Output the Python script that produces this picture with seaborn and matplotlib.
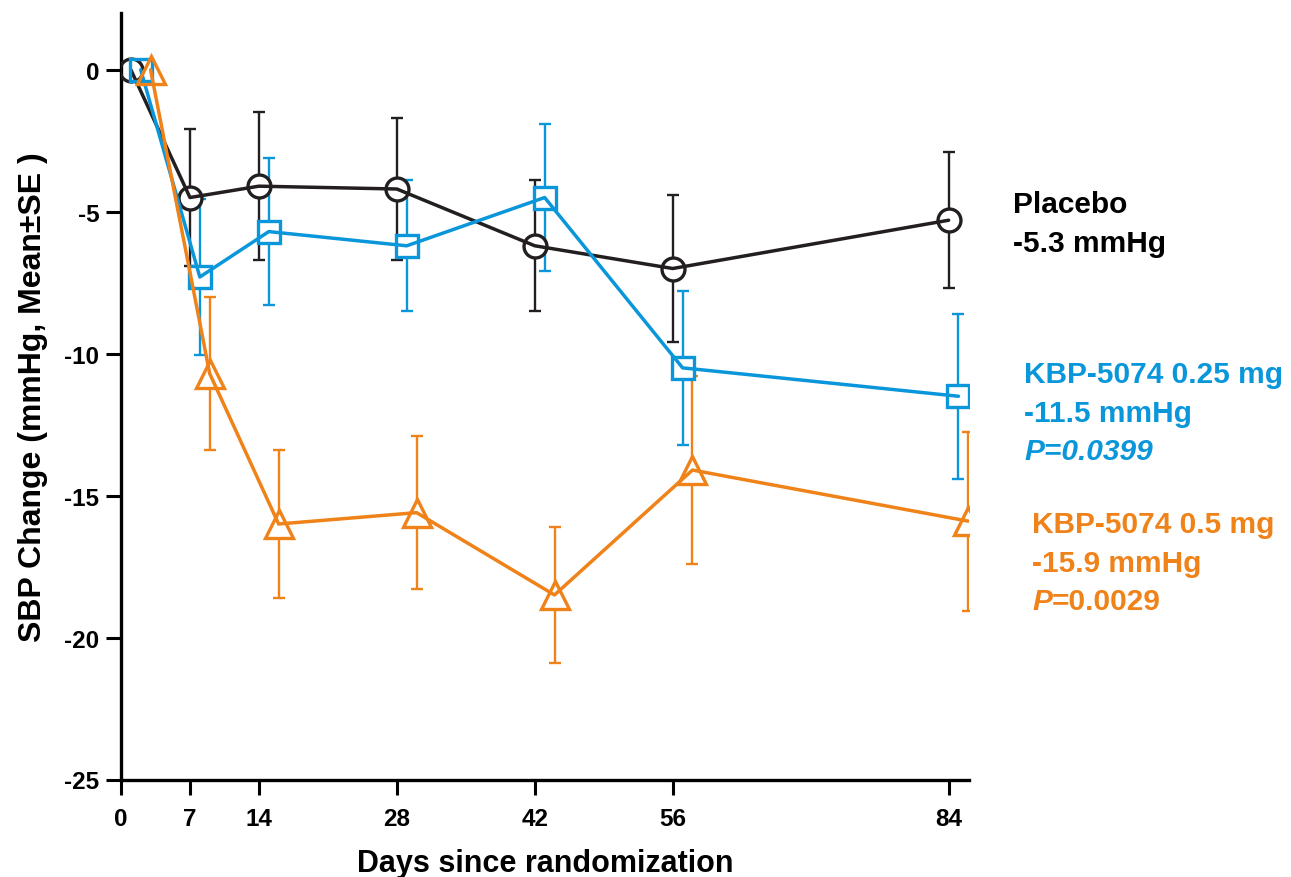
import matplotlib
matplotlib.use("Agg")
import matplotlib.pyplot as plt
import pandas as pd
import seaborn as sns

# ---------------- data ----------------
days = [0, 7, 14, 28, 42, 56, 84]
x_ticks = [0, 7, 14, 28, 42, 56, 84]
y_ticks = [0, -5, -10, -15, -20, -25]

groups = ["Placebo", "KBP-5074 0.25 mg", "KBP-5074 0.5 mg"]

placebo_mean = [0, -4.5, -4.1, -4.2, -6.2, -7.0, -5.3]
placebo_se = [0, 2.4, 2.6, 2.5, 2.3, 2.6, 2.4]
low_mean = [0, -7.3, -5.7, -6.2, -4.5, -10.5, -11.5]
low_se = [0, 2.75, 2.6, 2.3, 2.6, 2.7, 2.9]
high_mean = [0, -10.7, -16.0, -15.6, -18.5, -14.1, -15.9]
high_se = [0, 2.7, 2.6, 2.7, 2.4, 3.3, 3.15]

summary_lines = {
    "Placebo": ["Placebo", "-5.3 mmHg"],
    "KBP-5074 0.25 mg": ["KBP-5074 0.25 mg", "-11.5 mmHg"],
    "KBP-5074 0.5 mg": ["KBP-5074 0.5 mg", "-15.9 mmHg"],
}
p_values = {"KBP-5074 0.25 mg": "0.0399", "KBP-5074 0.5 mg": "0.0029"}

# ---------------- styles ----------------
colors = {"Placebo": "#231F20", "KBP-5074 0.25 mg": "#0A96DA", "KBP-5074 0.5 mg": "#EF8219"}
markers = {"Placebo": "o", "KBP-5074 0.25 mg": "s", "KBP-5074 0.5 mg": "^"}
msizes = {"Placebo": 16.5, "KBP-5074 0.25 mg": 15.5, "KBP-5074 0.5 mg": 19.5}
dodge = {"Placebo": 0, "KBP-5074 0.25 mg": 1, "KBP-5074 0.5 mg": 2}

rows = []
for g, means, ses in zip(groups, [placebo_mean, low_mean, high_mean], [placebo_se, low_se, high_se]):
    for d, m, s in zip(days, means, ses):
        rows.append({"group": g, "day": d, "x": max(d, 1) + dodge[g], "mean": m, "se": s})
df = pd.DataFrame(rows)

sns.set_style("ticks")
plt.rcParams["font.family"] = ["Liberation Sans", "DejaVu Sans"]
plt.rcParams["font.weight"] = "bold"
plt.rcParams["axes.unicode_minus"] = False
plt.rcParams["text.color"] = "black"
plt.rcParams["axes.labelcolor"] = "black"
plt.rcParams["xtick.color"] = "black"
plt.rcParams["ytick.color"] = "black"

W, H = 1291, 878
fig = plt.figure(figsize=(W / 100, H / 100), dpi=100)
ax = fig.add_axes([121 / W, (H - 780.5) / H, (969.3 - 121) / W, (780.5 - 14) / H])

for g in groups:
    sub = df[df["group"] == g]
    c = colors[g]
    eb = sub[sub["se"] > 0]
    ax.errorbar(eb["x"], eb["mean"], yerr=eb["se"], fmt="none", ecolor=c,
                elinewidth=1.7, capsize=4.3, capthick=1.7, zorder=1)
    # white fill under markers (hides error bar inside marker)
    sns.lineplot(data=sub, x="x", y="mean", ax=ax, color=c, marker=markers[g],
                 markersize=msizes[g], markerfacecolor="white", markeredgecolor="white",
                 markeredgewidth=0.5, linestyle="none", errorbar=None, legend=False, zorder=2)
    # line + hollow marker outline
    sns.lineplot(data=sub, x="x", y="mean", ax=ax, color=c, marker=markers[g],
                 markersize=msizes[g], markerfacecolor="none", markeredgecolor=c,
                 markeredgewidth=2.4, linewidth=2.5, errorbar=None, legend=False, zorder=3)

ax.set_xlim(0, 86.1)
ax.set_ylim(-25, 2)
ax.set_xticks(x_ticks)
ax.set_yticks(y_ticks)
ax.set_xticklabels([str(t) for t in x_ticks], fontsize=17.5, fontweight="bold")
ax.set_yticklabels([str(t) for t in y_ticks], fontsize=17.5, fontweight="bold")
ax.tick_params(axis="both", direction="out", length=11, width=2.2, color="black", labelcolor="black")
ax.tick_params(axis="x", pad=8.5)
ax.tick_params(axis="y", pad=4.5)
sns.despine(ax=ax)
for s in ["left", "bottom"]:
    ax.spines[s].set_linewidth(2.4)
    ax.spines[s].set_color("black")

ax.set_xlabel("Days since randomization", fontsize=22, fontweight="bold", color="black")
ax.set_ylabel("SBP Change (mmHg, Mean±SE )", fontsize=23, fontweight="bold", color="black")
ax.xaxis.set_label_coords(0.5, -0.090)
ax.yaxis.set_label_coords(-0.086, 0.5)

# right-hand annotations (pixel positions converted to figure fraction)
anno_pos = {"Placebo": (1013, 213), "KBP-5074 0.25 mg": (1024, 383), "KBP-5074 0.5 mg": (1032, 533)}
line_step = 39
fs = 21.5
for g in groups:
    x0, y0 = anno_pos[g]
    c = colors[g] if g != "Placebo" else "black"
    for i, txt in enumerate(summary_lines[g]):
        fig.text(x0 / W, (H - (y0 + i * line_step)) / H, txt, color=c, fontsize=fs,
                 fontweight="bold", ha="left", va="baseline")
    if g in p_values:
        yp = y0 + 2 * line_step - 1
        if g == "KBP-5074 0.25 mg":
            fig.text(x0 / W, (H - yp) / H, "P=" + p_values[g], color=c, fontsize=fs,
                     fontweight="bold", style="italic", ha="left", va="baseline")
        else:
            tp = fig.text(x0 / W, (H - yp) / H, "P", color=c, fontsize=fs,
                          fontweight="bold", style="italic", ha="left", va="baseline")
            ax.annotate("=" + p_values[g], xy=(1, 0), xycoords=tp, color=c, fontsize=fs,
                        fontweight="bold", ha="left", va="bottom", annotation_clip=False)

fig.savefig("out.png", dpi=100)
